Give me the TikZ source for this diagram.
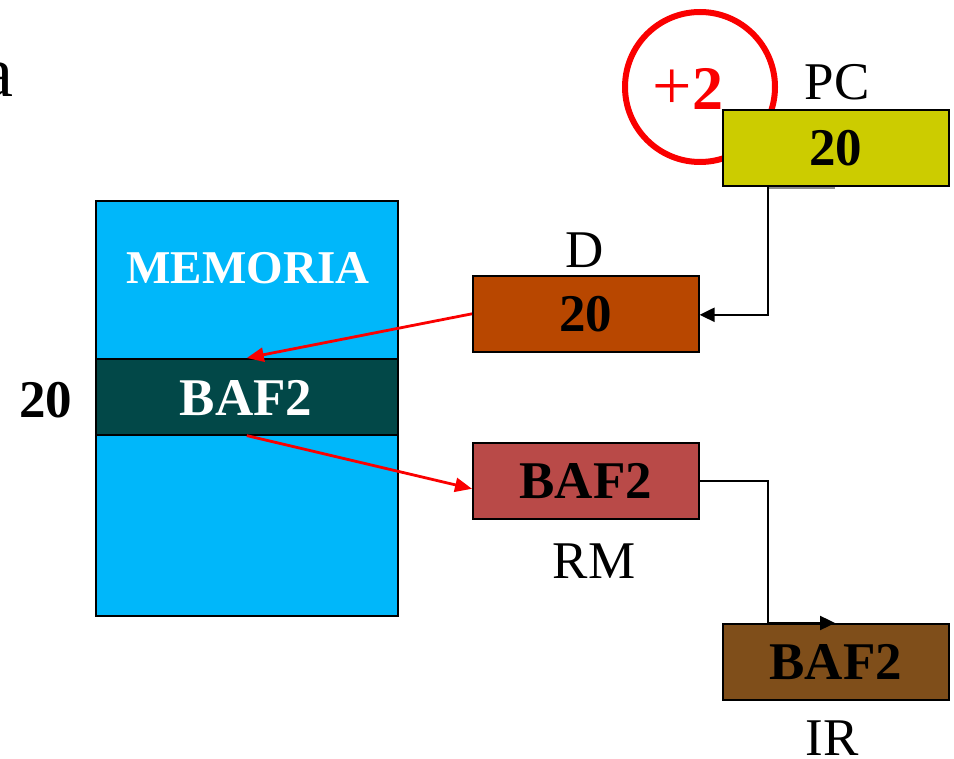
\documentclass[tikz,border=0pt]{standalone}
\usepackage{fontspec}
\setmainfont{Liberation Serif}
\usetikzlibrary{arrows.meta,calc}
\definecolor{pcfill}{RGB}{204,204,0}
\definecolor{dfill}{RGB}{184,71,0}
\definecolor{memfill}{RGB}{0,183,250}
\definecolor{bandfill}{RGB}{2,72,72}
\definecolor{rmfill}{RGB}{185,74,72}
\definecolor{irfill}{RGB}{127,78,26}
\definecolor{incred}{RGB}{250,0,0}
\newcommand{\bigfont}{\fontsize{53}{60}\selectfont}
\tikzset{
  reg/.style={draw=black, line width=1.6pt, minimum width=226pt, minimum height=76pt,
    inner sep=0pt, font=\bigfont\bfseries, text=black},
  lbl/.style={inner sep=0pt, font=\bigfont, text=black},
  wire/.style={draw=black, line width=2.4pt},
  redwire/.style={draw=incred, line width=2.8pt},
  blacktip/.style={-{Triangle[length=15pt,width=14pt]}},
  redtip/.style={-{Triangle[length=17pt,width=14pt]}},
}
\begin{document}
\begin{tikzpicture}[x=1pt,y=-1pt]
\useasboundingbox (0,0) rectangle (954,759);

% text cut at the left edge
\node[lbl, font=\fontsize{72}{80}\selectfont, anchor=base east] (cut) at (14,97) {a};

% memory block with the addressed word
\node[draw=black, line width=1.6pt, fill=memfill, minimum width=302pt, minimum height=415pt,
  inner sep=0pt, anchor=north west] (mem) at (95,200) {};
\node[text=white, font=\fontsize{47}{54}\selectfont\bfseries, inner sep=0pt] (memlbl) at (248,268) {MEMORIA};
\node[draw=black, line width=1.6pt, fill=bandfill, minimum width=302pt, minimum height=76pt,
  inner sep=0pt, anchor=north west] (band) at (95,358) {};
\node[text=white, font=\bigfont\bfseries, inner sep=0pt] (bandtxt) at (246,398) {BAF2};
\node[lbl, font=\bigfont\bfseries] (addr) at (46,400) {20};

% increment circle
\node[draw=incred, line width=6pt, circle, minimum size=150pt, inner sep=0pt] (inc) at (700,87) {};
\node[text=incred, font=\fontsize{62}{70}\selectfont, inner sep=0pt, anchor=base] (inctxt) at (688,110)
  {{\fontsize{70}{70}\selectfont+}\textbf{2}};

% registers
\node[reg, fill=pcfill, anchor=north west] (pc) at (722,109) {20};
\node[lbl, anchor=base] (pclbl) at (837,100) {PC};

\node[reg, fill=dfill, anchor=north west] (d) at (472,275) {20};
\node[lbl, anchor=base] (dlbl) at (585,268) {D};

\node[reg, fill=rmfill, anchor=north west] (rm) at (472,442) {BAF2};
\node[lbl, anchor=base] (rmlbl) at (594,578) {RM};

\node[reg, fill=irfill, anchor=north west] (ir) at (722,623) {BAF2};
\node[lbl, anchor=base] (irlbl) at (832,755) {IR};

% faint stub under PC
\draw[draw=black!45, line width=1.5pt] ($(pc.south west)+(46,1.5)$) -- ($(pc.south west)+(113,1.5)$);

% PC -> D
\draw[wire, blacktip] ($(pc.south west)+(46,0)$) |- ($(d.east)+(0,1)$);

% D -> memory word, memory word -> RM
\draw[redwire, redtip] (d.west) -- (band.north);
\draw[redwire, redtip] (band.south) -- ($(rm.west)+(0,8)$);

% RM -> IR
\coordinate (irin) at ($(ir.north west)+(46,0)$);
\draw[wire] (rm.east) -| (irin);
\draw[wire, blacktip] (irin) -- ($(ir.north west)+(113,0)$);
\end{tikzpicture}
\end{document}
